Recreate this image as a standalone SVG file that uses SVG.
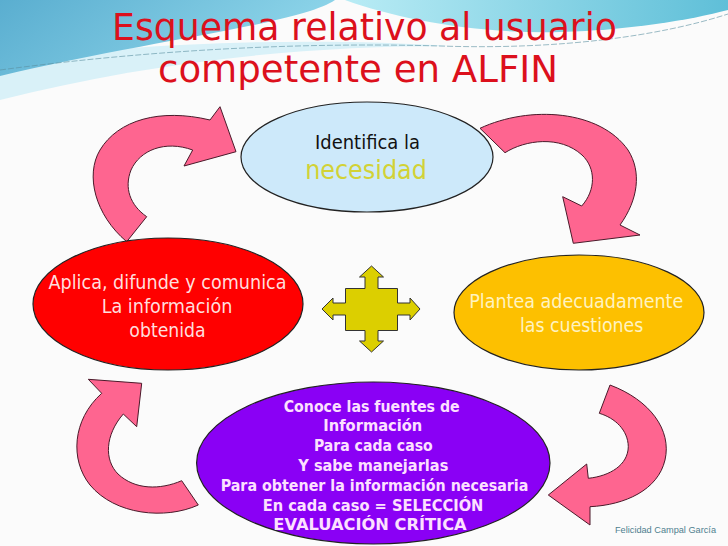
<svg xmlns="http://www.w3.org/2000/svg" width="728" height="546" viewBox="0 0 728 546">
<style>
.t{font-family:"DejaVu Sans","Verdana",sans-serif;text-anchor:middle}
.b{font-weight:bold}
.arrow{fill:#fe6590;stroke:#4a1a2a;stroke-width:1;stroke-linejoin:miter}
.ell{stroke:#222;stroke-width:1.2}
</style>
<defs>
<linearGradient id="gL" x1="0" y1="0" x2="1" y2="0.3">
<stop offset="0" stop-color="#5aaed0"/>
<stop offset="1" stop-color="#8fd6ea"/>
</linearGradient>
<linearGradient id="gR" x1="0" y1="0" x2="1" y2="0">
<stop offset="0" stop-color="#b9ecf5"/>
<stop offset="1" stop-color="#5fbfd8"/>
</linearGradient>
</defs>
<rect width="728" height="546" fill="#fbfbfb"/>
<g id="background-decoration">
<path d="M0,62 C120,44 300,36 450,46 C300,46 150,62 0,100 Z" fill="#d9f1f8"/>
<path d="M0,0 H335 C300,24 150,40 0,76 Z" fill="url(#gL)"/>
<path d="M345,0 C400,20 480,34 560,32 C630,30 690,20 728,10 V0 Z" fill="url(#gR)"/>
<path d="M0,70 C150,50 300,42 440,46 C560,50 660,36 728,14" fill="none" stroke="#5a8fa0" stroke-width="1" stroke-dasharray="6 2" opacity="0.6"/>
</g>
<g id="title" fill="#dc101c">
<text class="t" x="364.5" y="40" font-size="37" textLength="505" lengthAdjust="spacingAndGlyphs">Esquema relativo al usuario</text>
<text class="t" x="358" y="82" font-size="37" textLength="400" lengthAdjust="spacingAndGlyphs">competente en ALFIN</text>
</g>
<g id="connectors">
<path class="arrow" d="M126.7,241.7 C95,215 85,175 100,150 C118,120 160,108 210,120 L220,106.7 L236,151.7 L184,166 L192.7,150 C165,140 140,150 131,170 C124,188 130,205 146.7,216.7 Z"/>
<path class="arrow" d="M480,128.3 C530,105 600,110 628,150 C642,172 638,200 620,225 L640,235 L573.3,243.3 L562.7,196.7 L581.7,206 C596,190 596,168 582,155 C560,135 525,140 505,152.7 Z"/>
<path class="arrow" d="M610,385 C650,400 672,430 665,460 C658,490 625,505 590,506.7 L590,525 L548.3,495 L586.7,464 L588.3,478.3 C610,476 628,465 628.3,446.7 C628,430 615,418 599.3,413.3 Z"/>
<path class="arrow" d="M198.3,505 C165,520 115,515 90,485 C70,460 72,420 101.7,393.3 L88.3,379.3 L141.7,383.3 L136.7,426.7 L123.3,414 C105,435 104,460 118,474 C135,490 160,490 181.7,480.7 Z"/>
</g>
<g id="node-identifica">
<ellipse class="ell" cx="367" cy="157" rx="126" ry="55" fill="#cde9fa"/>
<text class="t" x="367.5" y="149" font-size="19" fill="#111" textLength="105" lengthAdjust="spacingAndGlyphs">Identifica la</text>
<text class="t" x="366" y="179" font-size="26" fill="#d2d236" textLength="121.7" lengthAdjust="spacingAndGlyphs">necesidad</text>
</g>
<g id="node-aplica">
<ellipse class="ell" cx="168" cy="304" rx="135" ry="66" fill="#ff0000"/>
<g fill="#ffdede" font-size="19">
<text class="t" x="167.5" y="288.5" textLength="238" lengthAdjust="spacingAndGlyphs">Aplica, difunde y comunica</text>
<text class="t" x="167" y="312.5" textLength="130.7" lengthAdjust="spacingAndGlyphs">La información</text>
<text class="t" x="167.5" y="336.5" textLength="76.3" lengthAdjust="spacingAndGlyphs">obtenida</text>
</g>
</g>
<g id="node-plantea">
<ellipse class="ell" cx="579" cy="312.5" rx="125" ry="57.5" fill="#fdc000"/>
<g fill="#fff3c0" font-size="19">
<text class="t" x="576.3" y="308.3" textLength="214" lengthAdjust="spacingAndGlyphs">Plantea adecuadamente</text>
<text class="t" x="581.7" y="331.7" textLength="123.3" lengthAdjust="spacingAndGlyphs">las cuestiones</text>
</g>
</g>
<g id="node-centro">
<polygon points="371.5,266 383.5,277 378,277 378,288.5 397.5,288.5 397.5,303 410,303 410,298 420,309 410,320 410,315 397.5,315 397.5,330.5 378,330.5 378,341 383.5,341 371.5,352 359.5,341 365,341 365,330.5 345.5,330.5 345.5,315 333,315 333,320 322,309 333,298 333,303 345.5,303 345.5,288.5 365,288.5 365,277 359.5,277" fill="#dccf00" stroke="#333" stroke-width="1"/>
</g>
<g id="node-conoce">
<ellipse class="ell" cx="373.3" cy="463" rx="176.7" ry="81" fill="#8a00f5"/>
<g fill="#fde0ff" font-size="16" class="b">
<text class="t" x="371.7" y="411.5" textLength="176" lengthAdjust="spacingAndGlyphs">Conoce las fuentes de</text>
<text class="t" x="372.8" y="431.3" textLength="99" lengthAdjust="spacingAndGlyphs">Información</text>
<text class="t" x="373.3" y="451.1" textLength="118.7" lengthAdjust="spacingAndGlyphs">Para cada caso</text>
<text class="t" x="373.3" y="470.9" textLength="150" lengthAdjust="spacingAndGlyphs">Y sabe manejarlas</text>
<text class="t" x="374.5" y="490.7" textLength="307.7" lengthAdjust="spacingAndGlyphs">Para obtener la información necesaria</text>
<text class="t" x="373" y="510.5" textLength="220.7" lengthAdjust="spacingAndGlyphs">En cada caso = SELECCIÓN</text>
<text class="t" x="370" y="530.3" textLength="193.3" lengthAdjust="spacingAndGlyphs">EVALUACIÓN CRÍTICA</text>
</g>
</g>
<text x="615" y="533" font-family="Liberation Sans, Arial, sans-serif" font-size="8.5" fill="#4f7f8f" textLength="101" lengthAdjust="spacingAndGlyphs">Felicidad Campal García</text>
</svg>
